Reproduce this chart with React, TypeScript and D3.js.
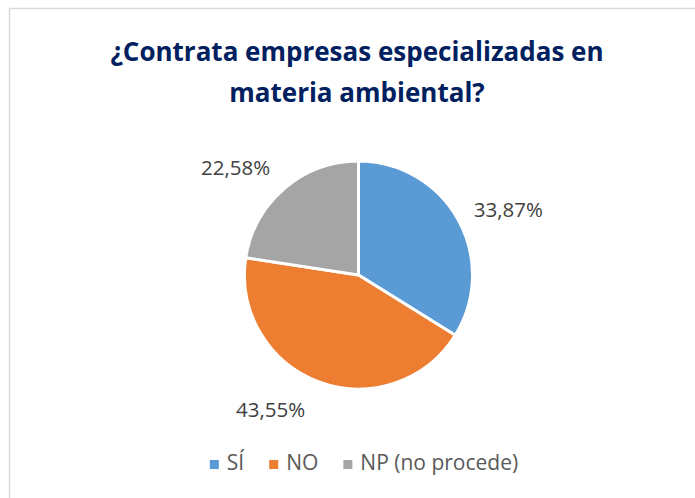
import React from "react";
import * as d3 from "d3";

const categories = ["SÍ", "NO", "NP (no procede)"];
const values = [33.87, 43.55, 22.58];
const valueLabels = ["33,87%", "43,55%", "22,58%"];
const colors = ["#5B9BD5", "#ED7D31", "#A5A5A5"];
const titleLines = ["¿Contrata empresas especializadas en", "materia ambiental?"];

// layout (not data)
const W = 695;
const H = 498;
const cx = 358.5;
const cy = 275;
const R = 114;
const labelNudge: [number, number][] = [
  [9, 1],
  [-32, 7],
  [-18, -4],
];

const FONT = "'Open Sans', 'Noto Sans', sans-serif";

export default function App() {
  const pieGen = d3
    .pie<number>()
    .sort(null)
    .value((d) => d)
    .startAngle(0)
    .endAngle(2 * Math.PI);
  const arcs = pieGen(values);
  const arcGen = d3.arc<d3.PieArcDatum<number>>().innerRadius(0).outerRadius(R);

  const legendFont = 21;
  const legendRef = React.useRef<SVGGElement>(null);
  const [legendX, setLegendX] = React.useState<number[] | null>(null);
  const sq = 9;
  const sqGap = 8;
  const itemGap = 25;

  React.useLayoutEffect(() => {
    const g = legendRef.current;
    if (!g) return;
    const texts = Array.from(g.querySelectorAll("text")) as SVGTextElement[];
    const widths = texts.map((t) => t.getComputedTextLength());
    const total =
      widths.reduce((a, w) => a + sq + sqGap + w, 0) + itemGap * (widths.length - 1);
    let x = 364 - total / 2;
    const xs: number[] = [];
    widths.forEach((w) => {
      xs.push(x);
      x += sq + sqGap + w + itemGap;
    });
    setLegendX(xs);
  }, []);

  const legendY = 470;

  return (
    <svg
      width={W}
      height={H}
      style={{ position: "absolute", left: 0, top: 0, display: "block", background: "#fff" }}
    >
      <rect x={9.5} y={8.5} width={W + 10} height={H + 10} fill="#fff" stroke="#d9d9d9" strokeWidth={1.5} />
      {titleLines.map((t, i) => (
        <text
          key={i}
          x={357}
          y={61 + i * 41}
          textAnchor="middle"
          fontFamily={FONT}
          fontWeight={700}
          fontSize={26}
          fill="#002060"
        >
          {t}
        </text>
      ))}
      <g transform={`translate(${cx},${cy})`}>
        {arcs.map((a, i) => (
          <path key={i} d={arcGen(a) || ""} fill={colors[i]} stroke="#fff" strokeWidth={3} strokeLinejoin="round" />
        ))}
        {arcs.map((a, i) => {
          const mid = (a.startAngle + a.endAngle) / 2;
          const sx = Math.sin(mid);
          const sy = -Math.cos(mid);
          const px = (R + 12) * sx + sx * 35 + labelNudge[i][0];
          const py = (R + 12) * sy + sy * 10 + labelNudge[i][1];
          return (
            <text
              key={"l" + i}
              x={px}
              y={py + 7}
              textAnchor="middle"
              fontFamily={FONT}
              fontSize={20.5}
              fill="#404040"
            >
              {valueLabels[i]}
            </text>
          );
        })}
      </g>
      <g ref={legendRef}>
        {categories.map((c, i) => {
          const x0 = legendX ? legendX[i] : 0;
          return (
            <g key={c} transform={`translate(${x0},0)`} opacity={legendX ? 1 : 0}>
              <rect x={0} y={legendY - 10} width={sq} height={sq} fill={colors[i]} />
              <text x={sq + sqGap} y={legendY} fontFamily={FONT} fontSize={legendFont} fill="#595959">
                {c}
              </text>
            </g>
          );
        })}
      </g>
    </svg>
  );
}
